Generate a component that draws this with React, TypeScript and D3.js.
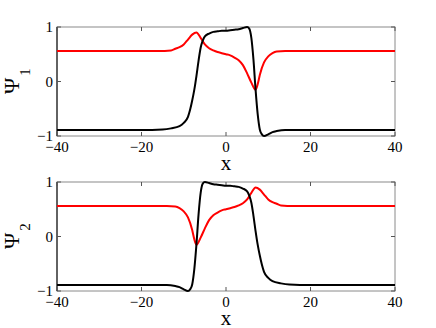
import React from "react";
import * as d3 from "d3";

const topBlackX = [-40, -20, -15, -13, -11, -10, -9, -8.5, -8, -7.5, -7, -6.5, -6, -5.5, -5, -4, -3, -2, -1, 0, 1, 2, 3, 4, 5, 5.5, 6, 6.5, 7, 7.5, 8, 8.5, 9, 10, 11, 12, 14, 20, 40];
const topBlackY = [-0.89, -0.89, -0.88, -0.86, -0.82, -0.76, -0.65, -0.52, -0.35, -0.15, 0.1, 0.38, 0.62, 0.75, 0.83, 0.88, 0.91, 0.92, 0.93, 0.93, 0.94, 0.95, 0.96, 0.98, 1.0, 0.97, 0.8, 0.4, -0.15, -0.6, -0.88, -0.97, -1.0, -0.97, -0.93, -0.91, -0.89, -0.89, -0.89];

const topRedX = [-40, -16, -13, -12, -11, -10, -9, -8, -7, -6, -5, -4, -3, -2, -1, 0, 1, 2, 3, 4, 5, 6, 7, 7.5, 8, 9, 10, 11, 12, 14, 40];
const topRedY = [0.56, 0.56, 0.57, 0.6, 0.63, 0.68, 0.77, 0.86, 0.9, 0.8, 0.68, 0.61, 0.57, 0.54, 0.52, 0.5, 0.48, 0.44, 0.39, 0.3, 0.15, -0.02, -0.15, -0.05, 0.12, 0.35, 0.46, 0.52, 0.55, 0.56, 0.56];

const botBlackX = [-40, -20, -14, -12, -11, -10, -9, -8.5, -8, -7.5, -7, -6.5, -6, -5.5, -5, -4, -3, -2, -1, 0, 1, 2, 3, 4, 5, 5.5, 6, 6.5, 7, 7.5, 8, 8.5, 9, 10, 11, 13, 15, 20, 40];
const botBlackY = [-0.89, -0.89, -0.89, -0.91, -0.93, -0.97, -1.0, -0.97, -0.88, -0.6, -0.15, 0.4, 0.8, 0.97, 1.0, 0.98, 0.96, 0.95, 0.94, 0.93, 0.93, 0.92, 0.91, 0.88, 0.83, 0.75, 0.62, 0.38, 0.1, -0.15, -0.35, -0.52, -0.65, -0.76, -0.82, -0.86, -0.88, -0.89, -0.89];

const botRedX = [-40, -14, -12, -11, -10, -9, -8, -7.5, -7, -6, -5, -4, -3, -2, -1, 0, 1, 2, 3, 4, 5, 6, 7, 8, 9, 10, 11, 12, 13, 16, 40];
const botRedY = [0.56, 0.56, 0.55, 0.52, 0.46, 0.35, 0.12, -0.05, -0.15, -0.02, 0.15, 0.3, 0.39, 0.44, 0.48, 0.5, 0.52, 0.54, 0.57, 0.61, 0.68, 0.8, 0.9, 0.86, 0.77, 0.68, 0.63, 0.6, 0.57, 0.56, 0.56];

const xTicks = [-40, -20, 0, 20, 40];
const yTicks = [-1, 0, 1];

const FONT = "'Liberation Serif', 'DejaVu Serif', serif";

function Panel({ top, sub, black, red }) {
  const left = 57, right = 395, height = 109;
  const x = d3.scaleLinear().domain([-40, 40]).range([left, right]);
  const y = d3.scaleLinear().domain([-1, 1]).range([top + height, top]);
  const line = d3.line<[number, number]>()
    .x(d => x(d[0]))
    .y(d => y(d[1]))
    .curve(d3.curveMonotoneX);
  const tl = 4;
  return (
    <g>
      {/* box */}
      <rect x={left} y={top} width={right - left} height={height} fill="none" stroke="#8a8a8a" strokeWidth={1} />
      <line x1={left} x2={left} y1={top} y2={top + height} stroke="#000" strokeWidth={1} />
      {xTicks.map(t => (
        <g key={"x" + t}>
          <line x1={x(t)} x2={x(t)} y1={top + height} y2={top + height - tl} stroke="#555" />
          <line x1={x(t)} x2={x(t)} y1={top} y2={top + tl} stroke="#555" />
          <text x={x(t)} y={top + height + 16} textAnchor="middle" fontSize={15} fontFamily={FONT}>
            {t < 0 ? "\u2212" + Math.abs(t) : t}
          </text>
        </g>
      ))}
      {yTicks.map(t => (
        <g key={"y" + t}>
          <line x1={left} x2={left + tl} y1={y(t)} y2={y(t)} stroke="#555" />
          <line x1={right} x2={right - tl} y1={y(t)} y2={y(t)} stroke="#555" />
          <text x={left - 4} y={y(t) + 5} textAnchor="end" fontSize={15} fontFamily={FONT}>
            {t < 0 ? "\u2212" + Math.abs(t) : t}
          </text>
        </g>
      ))}
      <path d={line(red.x.map((v, i) => [v, red.y[i]]))} fill="none" stroke="#ff0000" strokeWidth={2} />
      <path d={line(black.x.map((v, i) => [v, black.y[i]]))} fill="none" stroke="#000" strokeWidth={2} />
      {/* labels */}
      <text x={226} y={top + height + 34} textAnchor="middle" fontSize={21} fontFamily={FONT}>x</text>
      <text transform={`translate(19, ${top + 59}) rotate(-90)`} textAnchor="middle" fontSize={22} fontFamily={FONT}>Ψ</text>
      <text transform={`translate(30, ${top + 45}) rotate(-90)`} textAnchor="middle" fontSize={15} fontFamily={FONT}>{sub}</text>
    </g>
  );
}

export default function App() {
  return (
    <svg width={436} height={328} style={{ position: "absolute", left: 0, top: 0, background: "#fff" }}>
      <Panel top={27} sub="1" black={{ x: topBlackX, y: topBlackY }} red={{ x: topRedX, y: topRedY }} />
      <Panel top={182} sub="2" black={{ x: botBlackX, y: botBlackY }} red={{ x: botRedX, y: botRedY }} />
    </svg>
  );
}
